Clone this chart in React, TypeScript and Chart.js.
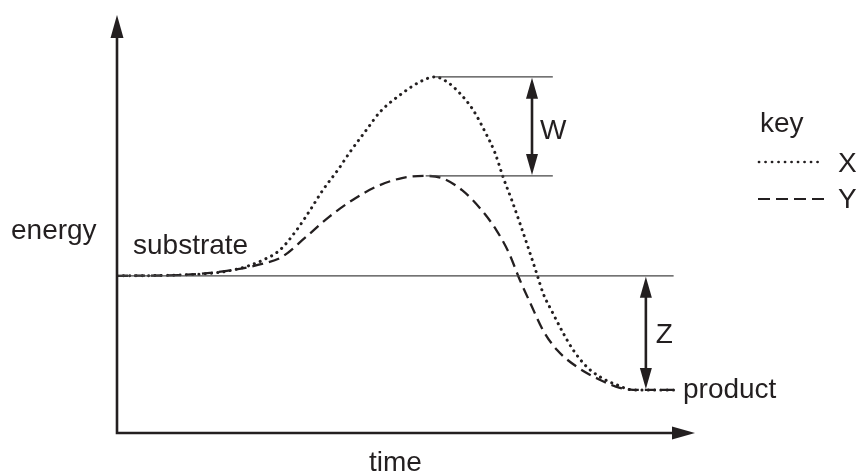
import React, { useEffect, useRef } from "react";
import { Chart, registerables } from "chart.js";

Chart.register(...registerables);

// Reaction X (dotted): time vs energy
const xTime = [0, 10.9, 20.1, 25.3, 28.2, 31.1, 33.4, 35.6, 38.2, 40.3, 43.3, 45.5, 49.0, 52.4, 55.0, 57.1, 59.3, 61.6, 63.7, 65.4, 66.8, 68.3, 69.7, 71.1, 72.7, 73.7, 75.4, 77.2, 78.9, 81.3, 83.6, 86.5, 89.3, 96.9];
const xEnergy = [37.6, 37.8, 39.0, 41.4, 43.8, 48.6, 53.3, 58.1, 62.9, 67.2, 72.8, 76.8, 80.9, 84.0, 85.2, 84.0, 81.3, 77.3, 72.0, 67.0, 61.2, 55.7, 50.2, 44.5, 37.8, 33.5, 28.7, 23.9, 19.9, 15.8, 13.4, 11.5, 10.3, 10.3];

// Reaction Y (dashed)
const yTime = [0, 10.9, 19.0, 25.8, 28.5, 32.7, 36.7, 40.7, 44.8, 49.3, 53.4, 56.2, 59.7, 63.1, 65.6, 67.8, 69.7, 71.5, 73.7, 76.1, 79.6, 83.6, 87.0, 90.5, 96.9];
const yEnergy = [37.6, 37.8, 38.8, 40.7, 42.1, 46.9, 51.7, 55.7, 58.9, 61.0, 61.5, 61.0, 58.1, 53.3, 48.6, 43.1, 36.6, 31.1, 24.6, 19.9, 15.8, 12.7, 10.8, 10.3, 10.3];

// Energy levels
const SUBSTRATE = 37.6;
const PRODUCT = 10.3;
const PEAK_X = 85.2;
const PEAK_Y = 61.5;

// Reference line extents (time)
const substrateLine = [0, 96.3];
const peakXLine = [55.0, 75.4];
const peakYLine = [53.4, 75.4];
const W_TIME = 71.8;
const Z_TIME = 91.5;

const labels = ["energy", "time", "substrate", "product", "W", "Z"];
const legendTitle = "key";
const seriesNames = ["X", "Y"];

const INK = "#231f20";
const FONT = '28px "Liberation Sans", Arial, Helvetica, sans-serif';

function zip(a: number[], b: number[]) {
  return a.map((v, i) => ({ x: v, y: b[i] }));
}

function head(ctx: CanvasRenderingContext2D, tx: number, ty: number, dx: number, dy: number, len = 22, hw = 6) {
  const px = -dy, py = dx;
  const bx = tx - dx * len, by = ty - dy * len;
  ctx.beginPath();
  ctx.moveTo(tx, ty);
  ctx.lineTo(bx + px * hw, by + py * hw);
  ctx.lineTo(bx - px * hw, by - py * hw);
  ctx.closePath();
  ctx.fill();
}

const decor = {
  id: "decor",
  afterDatasetsDraw(chart: any) {
    const { ctx, chartArea, scales } = chart;
    const { left, right, top, bottom } = chartArea;
    const sx = scales.x, sy = scales.y;
    ctx.save();
    ctx.strokeStyle = INK;
    ctx.fillStyle = INK;
    ctx.lineCap = "butt";
    ctx.setLineDash([]);
    // axes
    ctx.lineWidth = 2.6;
    ctx.beginPath();
    ctx.moveTo(left, top + 20);
    ctx.lineTo(left, bottom);
    ctx.lineTo(right - 20, bottom);
    ctx.stroke();
    head(ctx, left, top, 0, -1, 23, 6.5);
    head(ctx, right, bottom, 1, 0, 23, 6.5);

    // double arrows
    const dbl = (t: number, e1: number, e2: number) => {
      const x = sx.getPixelForValue(t);
      const y1 = sy.getPixelForValue(e1) + 1;
      const y2 = sy.getPixelForValue(e2) - 1;
      ctx.lineWidth = 2.6;
      ctx.beginPath();
      ctx.moveTo(x, y1 + 18);
      ctx.lineTo(x, y2 - 18);
      ctx.stroke();
      head(ctx, x, y1, 0, -1, 21, 6);
      head(ctx, x, y2, 0, 1, 21, 6);
      return x;
    };
    const wx = dbl(W_TIME, PEAK_X, PEAK_Y);
    const zx = dbl(Z_TIME, SUBSTRATE, PRODUCT);

    ctx.font = FONT;
    ctx.textBaseline = "alphabetic";
    ctx.textAlign = "left";
    const wMid = (sy.getPixelForValue(PEAK_X) + sy.getPixelForValue(PEAK_Y)) / 2;
    const zMid = (sy.getPixelForValue(SUBSTRATE) + sy.getPixelForValue(PRODUCT)) / 2;
    ctx.fillText(labels[4], wx + 8, wMid + 13);
    ctx.fillText(labels[5], zx + 10, zMid + 10);
    ctx.fillText(labels[0], 11, 239);
    ctx.fillText(labels[2], 133, 254);
    ctx.fillText(labels[3], 683, sy.getPixelForValue(PRODUCT) + 8);
    ctx.fillText(labels[1], 369, 471);

    // key
    ctx.fillText(legendTitle, 760, 132);
    ctx.fillText(seriesNames[0], 838, 172);
    ctx.fillText(seriesNames[1], 838, 208);
    ctx.lineWidth = 2.7;
    ctx.lineCap = "round";
    ctx.setLineDash([0.1, 6.4]);
    ctx.beginPath();
    ctx.moveTo(759, 162);
    ctx.lineTo(823, 162);
    ctx.stroke();
    ctx.lineCap = "butt";
    ctx.lineWidth = 2.2;
    ctx.setLineDash([12, 6]);
    ctx.beginPath();
    ctx.moveTo(758, 199);
    ctx.lineTo(828, 199);
    ctx.stroke();
    ctx.restore();
  },
};

export default function App() {
  const ref = useRef<HTMLCanvasElement | null>(null);
  useEffect(() => {
    if (!ref.current) return;
    const thin = (xs: number[], e: number) => ({
      data: xs.map((v) => ({ x: v, y: e })),
      borderColor: "#444",
      borderWidth: 1.3,
      pointRadius: 0,
      tension: 0,
    });
    const chart = new Chart(ref.current, {
      type: "line",
      data: {
        datasets: [
          thin(substrateLine, SUBSTRATE),
          thin(peakXLine, PEAK_X),
          thin(peakYLine, PEAK_Y),
          {
            label: seriesNames[0],
            data: zip(xTime, xEnergy),
            borderColor: INK,
            borderWidth: 3,
            borderDash: [0.1, 6.2],
            borderCapStyle: "round",
            pointRadius: 0,
            cubicInterpolationMode: "monotone",
          },
          {
            label: seriesNames[1],
            data: zip(yTime, yEnergy),
            borderColor: INK,
            borderWidth: 2.3,
            borderDash: [11, 6],
            pointRadius: 0,
            cubicInterpolationMode: "monotone",
          },
        ] as any,
      },
      options: {
        animation: false,
        responsive: false,
        devicePixelRatio: 1,
        layout: { padding: { left: 117, right: 165, top: 15, bottom: 42 } },
        scales: {
          x: { type: "linear", min: 0, max: 100, display: false },
          y: { type: "linear", min: 0, max: 100, display: false },
        },
        plugins: { legend: { display: false }, tooltip: { enabled: false } },
      } as any,
      plugins: [decor],
    });
    return () => chart.destroy();
  }, []);
  return (
    <div style={{ position: "fixed", left: 0, top: 0, width: 860, height: 475, background: "#fff" }}>
      <canvas ref={ref} width={860} height={475} style={{ width: 860, height: 475, display: "block" }} />
    </div>
  );
}
